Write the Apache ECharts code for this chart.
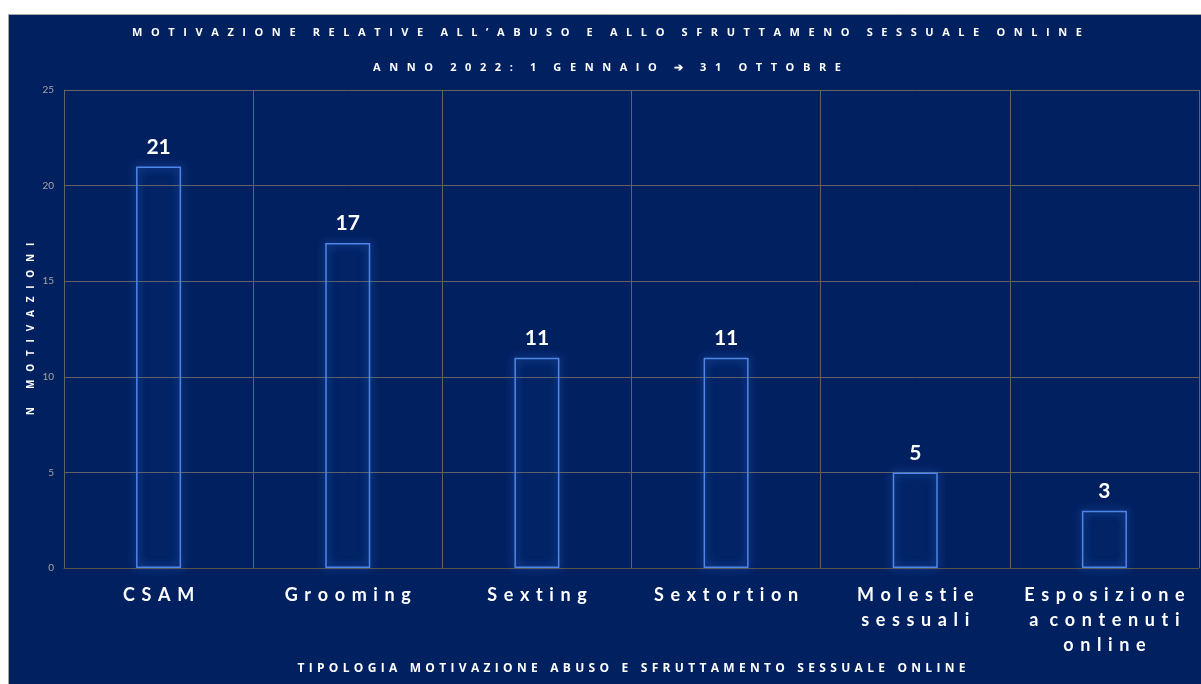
<!DOCTYPE html>
<html>
<head>
<meta charset="utf-8">
<style>
  html, body { margin: 0; padding: 0; background: #ffffff; }
  #chart { width: 1201px; height: 684px; }
</style>
<script src="https://cdn.jsdelivr.net/npm/echarts@6/dist/echarts.min.js"></script>
</head>
<body>
<div id="chart"></div>
<script>
// Categories and counts
const categories = ['CSAM', 'Grooming', 'Sexting', 'Sextortion', 'Molestie\nsessuali', 'Esposizione\na contenuti\nonline'];
const counts = [21, 17, 11, 11, 5, 3];
const yTicks = { min: 0, max: 25, interval: 5 };

const titleText = 'MOTIVAZIONE RELATIVE ALL’ABUSO E ALLO SFRUTTAMENO SESSUALE ONLINE';
const subtitleText = 'ANNO 2022: 1 GENNAIO ➔ 31 OTTOBRE';
const yName = 'N MOTIVAZIONI';
const xName = 'TIPOLOGIA MOTIVAZIONE ABUSO E SFRUTTAMENTO SESSUALE ONLINE';

// Spread letters apart (wide tracking), keeping line breaks
function spaced(str, gap, wordGap) {
  return str.split('\n').map(line =>
    line.split(' ').map(w => Array.from(w).join(gap)).join(wordGap)
  ).join('\n');
}

const panel = '#002060';
const gridColor = '#626262';

const chart = echarts.init(document.getElementById('chart'), null, { renderer: 'canvas' });

chart.setOption({
  backgroundColor: '#ffffff',
  animation: false,
  graphic: [{
    type: 'rect',
    z: -10,
    shape: { x: 8.5, y: 14.5, width: 1200, height: 680 },
    style: { fill: panel, stroke: '#a6a6a6', lineWidth: 1 }
  }],
  title: [{
    text: spaced(titleText, '   ', '      '),
    left: 602, top: 22, textAlign: 'center',
    textStyle: { color: '#ffffff', fontFamily: 'Open Sans', fontWeight: 'bold', fontSize: 11 }
  }, {
    text: spaced(subtitleText, '   ', '      '),
    left: 602, top: 57, textAlign: 'center',
    textStyle: { color: '#ffffff', fontFamily: 'Open Sans', fontWeight: 'bold', fontSize: 11 }
  }],
  grid: { left: 64, right: 2, top: 90, bottom: 116, containLabel: false },
  xAxis: {
    type: 'category',
    data: categories,
    boundaryGap: true,
    name: spaced(xName, ' \u200A', '    '),
    nameLocation: 'middle',
    nameGap: 95,
    nameTextStyle: { color: '#ffffff', fontFamily: 'Open Sans', fontWeight: 'bold', fontSize: 12 },
    axisLine: { show: true, lineStyle: { color: '#5a5448', width: 1 } },
    axisTick: { show: false },
    splitLine: { show: true, lineStyle: { color: gridColor, width: 1 } },
    axisLabel: {
      interval: 0,
      margin: 15,
      color: '#ffffff',
      fontFamily: 'Lato',
      fontWeight: 'bold',
      fontSize: 18,
      lineHeight: 25,
      formatter: v => spaced(v, ' \u2009', '  \u2009')
    }
  },
  yAxis: {
    type: 'value',
    min: yTicks.min, max: yTicks.max, interval: yTicks.interval,
    name: spaced(yName, '   ', '       '),
    nameLocation: 'middle',
    nameGap: 28,
    nameMoveOverlap: false,
    nameRotate: 90,
    nameTextStyle: { color: '#ffffff', fontFamily: 'Open Sans', fontWeight: 'bold', fontSize: 10 },
    axisLine: { show: true, lineStyle: { color: gridColor } },
    axisTick: { show: false },
    splitLine: { show: true, lineStyle: { color: gridColor, width: 1 } },
    axisLabel: { color: '#a6a6a6', fontFamily: 'Lato', fontSize: 10, margin: 10 }
  },
  series: [{
    type: 'bar',
    data: counts,
    barWidth: 45,
    itemStyle: {
      color: 'rgba(20,60,150,0.04)',
      borderColor: '#4f86e8',
      borderWidth: 1.5,
      shadowBlur: 8,
      shadowColor: 'rgba(70,130,240,0.9)'
    },
    label: {
      show: true,
      position: 'top',
      distance: 9,
      color: '#ffffff',
      fontFamily: 'Lato',
      fontWeight: 'bold',
      fontSize: 21
    }
  }]
});
</script>
</body>
</html>
